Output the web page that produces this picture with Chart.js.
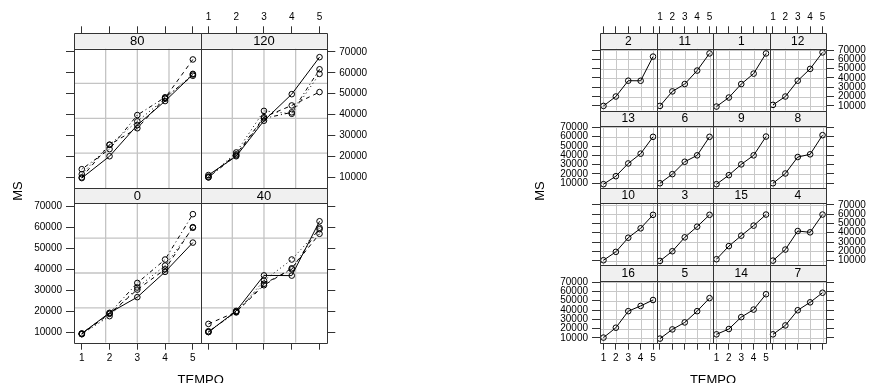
<!DOCTYPE html>
<html>
<head>
<meta charset="utf-8">
<script src="https://cdn.jsdelivr.net/npm/chart.js@4.4.0/dist/chart.umd.min.js"></script>
<style>
  html, body { margin: 0; padding: 0; background: #fff; }
  #wrap { position: relative; width: 869px; height: 383px; }
  canvas { position: absolute; top: 0; }
</style>
</head>
<body>
<div id="wrap">
  <canvas id="byDose" width="430" height="383" style="left:0"></canvas>
  <canvas id="byPlot" width="439" height="383" style="left:430px"></canvas>
</div>
<script>
// dry matter (MS) per plot, read at TEMPO 1..5
const TEMPO = [1, 2, 3, 4, 5]
const plot1 = [9300, 19000, 33500, 44700, 66400]
const plot2 = [10000, 20100, 37100, 37000, 63000]
const plot3 = [9650, 20100, 35000, 46500, 59200]
const plot4 = [10000, 21900, 41800, 40400, 59500]
const plot5 = [9300, 19200, 26700, 38800, 52800]
const plot6 = [10000, 19800, 33100, 40000, 59900]
const plot7 = [13900, 23500, 39800, 48300, 58600]
const plot8 = [10000, 20500, 38200, 41100, 61700]
const plot9 = [9000, 18700, 30300, 40000, 60200]
const plot10 = [10400, 19400, 34600, 44700, 59200]
const plot11 = [10000, 25600, 33500, 48000, 66400]
const plot12 = [11100, 20100, 37100, 49800, 67500]
const plot13 = [9000, 17600, 31300, 41800, 59900]
const plot14 = [13900, 19600, 32400, 40500, 57000]
const plot15 = [11500, 25600, 36800, 47600, 59500]
const plot16 = [10400, 21000, 38800, 44400, 50800]

const X_TICKS = [1, 2, 3, 4, 5]
const Y_TICKS = [10000, 20000, 30000, 40000, 50000, 60000, 70000]

const DOSES = ['0', '40', '80', '120']
const DOSE_PLOTS = [[5, 9, 13, 1], [2, 14, 10, 6], [3, 11, 15, 7], [12, 16, 4, 8]]
const DOSE_LAYOUT = [['80', '120'], ['0', '40']]
const PLOT_LAYOUT = [[2, 11, 1, 12], [13, 6, 9, 8], [10, 3, 15, 4], [16, 5, 14, 7]]

const PLOTS = [plot1, plot2, plot3, plot4, plot5, plot6, plot7, plot8,
  plot9, plot10, plot11, plot12, plot13, plot14, plot15, plot16]

// line types of the superposed groups: solid, dashed, dotted, dotdash
const LTY = [[], [4, 4], [1, 3], [1, 3, 4, 3]]

const INK = '#000'
const FRAME = '#333'
const STRIP_BG = '#f0f0f0'
const FAMILY = 'Liberation Sans, Arial, Helvetica, sans-serif'

// lattice pads numeric axes by 7% of the data range
const xLo = Math.min(...TEMPO)
const xHi = Math.max(...TEMPO)
const X_MIN = xLo - 0.07 * (xHi - xLo)
const X_MAX = xHi + 0.07 * (xHi - xLo)
const yLo = Math.min(...PLOTS.flat())
const yHi = Math.max(...PLOTS.flat())
const Y_MIN = yLo - 0.07 * (yHi - yLo)
const Y_MAX = yHi + 0.07 * (yHi - yLo)

const TOP_H = 33.3
const BOTTOM_H = 24
const LEFT_W = 44
const RIGHT_W = 40

const makePlugin = (spec) => ({
  id: 'lattice',
  beforeDatasetsDraw (chart) {
    const ctx = chart.ctx
    spec.panels.forEach((row, r) => row.forEach((p, c) => {
      const xs = chart.scales[`x${c}b`]
      const ys = chart.scales[`y${r}l`]
      const L = xs.left, R = xs.right, T = ys.top, B = ys.bottom, S = T + spec.strip
      ctx.save()
      ctx.fillStyle = STRIP_BG
      ctx.fillRect(L, T, R - L, spec.strip)
      ctx.fillStyle = INK
      ctx.font = spec.stripFont
      ctx.textAlign = 'center'
      ctx.textBaseline = 'middle'
      ctx.fillText(p.label, (L + R) / 2, T + spec.strip / 2 + 0.5)

      ctx.beginPath()
      ctx.rect(L, S, R - L, B - S)
      ctx.clip()
      ctx.strokeStyle = spec.gridColor
      ctx.lineWidth = spec.gridWidth
      ctx.beginPath()
      if (spec.grid === 'quarters') {
        for (const f of [0.25, 0.5, 0.75]) {
          const gx = L + f * (R - L)
          const gy = S + f * (B - S)
          ctx.moveTo(gx, S); ctx.lineTo(gx, B)
          ctx.moveTo(L, gy); ctx.lineTo(R, gy)
        }
      } else {
        X_TICKS.forEach(v => {
          const gx = Math.round(xs.getPixelForValue(v)) + 0.5
          ctx.moveTo(gx, S); ctx.lineTo(gx, B)
        })
        Y_TICKS.forEach(v => {
          const gy = Math.round(ys.getPixelForValue(v)) + 0.5
          ctx.moveTo(L, gy); ctx.lineTo(R, gy)
        })
      }
      ctx.stroke()
      ctx.restore()
    }))
  },
  afterDatasetsDraw (chart) {
    const ctx = chart.ctx
    const a = chart.chartArea
    ctx.save()
    ctx.strokeStyle = FRAME
    ctx.lineWidth = 1
    ctx.beginPath()
    spec.panels.forEach((row, r) => row.forEach((p, c) => {
      const xs = chart.scales[`x${c}b`]
      const ys = chart.scales[`y${r}l`]
      const L = Math.round(xs.left) + 0.5
      const R = Math.round(xs.right) + 0.5
      const T = Math.round(ys.top) + 0.5
      const B = Math.round(ys.bottom) + 0.5
      const S = Math.round(ys.top + spec.strip) + 0.5
      ctx.rect(L, T, R - L, B - T)
      ctx.moveTo(L, S); ctx.lineTo(R, S)
    }))
    ctx.stroke()

    ctx.fillStyle = INK
    ctx.font = '13px ' + FAMILY
    ctx.textAlign = 'center'
    ctx.textBaseline = 'middle'
    ctx.fillText('TEMPO', (a.left + a.right) / 2, 380)
    ctx.translate(spec.msX, 191)
    ctx.rotate(-Math.PI / 2)
    ctx.fillText('MS', 0, 0)
    ctx.restore()
  }
})

const lattice = (id, spec) => {
  const canvas = document.getElementById(id)
  const W = canvas.width
  const H = canvas.height
  const rows = spec.panels.length
  const cols = spec.panels[0].length
  const rowH = (spec.area.bottom - spec.area.top) / rows
  const yTop = Y_MAX + (Y_MAX - Y_MIN) * spec.strip / (rowH - spec.strip)
  const tickFont = { family: FAMILY, size: 10 }

  const xAxis = (pos, c, labelled) => ({
    type: 'linear',
    position: pos,
    stack: pos,
    stackWeight: 1,
    weight: pos === 'top' ? -c : c,
    min: X_MIN,
    max: X_MAX,
    bounds: 'data',
    afterBuildTicks: s => { s.ticks = X_TICKS.map(value => ({ value })) },
    afterFit: s => { s.height = pos === 'top' ? TOP_H : BOTTOM_H },
    grid: { drawOnChartArea: false, tickLength: 7, color: FRAME, lineWidth: 1 },
    border: { display: false },
    ticks: { display: labelled, autoSkip: false, maxRotation: 0, padding: 3, color: INK, font: tickFont, callback: v => String(v) }
  })

  const yAxis = (pos, r, labelled) => ({
    type: 'linear',
    position: pos,
    stack: pos,
    stackWeight: 1,
    weight: pos === 'left' ? -r : r,
    min: Y_MIN,
    max: yTop,
    bounds: 'data',
    afterBuildTicks: s => { s.ticks = Y_TICKS.map(value => ({ value })) },
    afterFit: s => { s.width = pos === 'left' ? LEFT_W : RIGHT_W },
    grid: { drawOnChartArea: false, tickLength: 8, color: FRAME, lineWidth: 1 },
    border: { display: false },
    ticks: { display: labelled, autoSkip: false, padding: 4, color: INK, font: tickFont, callback: v => String(v) }
  })

  const scales = {}
  for (let c = 0; c < cols; c++) {
    scales[`x${c}b`] = xAxis('bottom', c, c % 2 === 0)
    scales[`x${c}t`] = xAxis('top', c, c % 2 === 1)
  }
  for (let r = 0; r < rows; r++) {
    const fromBottom = rows - 1 - r
    scales[`y${r}l`] = yAxis('left', r, fromBottom % 2 === 0)
    scales[`y${r}r`] = yAxis('right', r, fromBottom % 2 === 1)
  }

  const datasets = []
  spec.panels.forEach((row, r) => row.forEach((p, c) => {
    p.series.forEach(s => {
      datasets.push({
        data: TEMPO.map((t, i) => ({ x: t, y: s.values[i] })),
        xAxisID: `x${c}b`,
        yAxisID: `y${r}l`,
        borderColor: INK,
        borderWidth: 1,
        borderDash: s.dash,
        pointRadius: 2.8,
        pointBorderWidth: 1,
        pointBorderColor: INK,
        pointBackgroundColor: 'rgba(0,0,0,0)',
        tension: 0,
        fill: false
      })
    })
  }))

  return new Chart(canvas.getContext('2d'), {
    type: 'line',
    data: { datasets },
    plugins: [makePlugin(spec)],
    options: {
      responsive: false,
      animation: false,
      devicePixelRatio: 1,
      layout: {
        padding: {
          left: spec.area.left - LEFT_W,
          right: W - spec.area.right - RIGHT_W,
          top: spec.area.top - TOP_H,
          bottom: H - spec.area.bottom - BOTTOM_H
        }
      },
      scales,
      plugins: { legend: { display: false }, tooltip: { enabled: false } }
    }
  })
}

lattice('byDose', {
  area: { left: 74, right: 327.3, top: 33.3, bottom: 342.7 },
  strip: 15.3,
  stripFont: '13px ' + FAMILY,
  grid: 'quarters',
  gridColor: '#c4c4c4',
  gridWidth: 1.3,
  msX: 18,
  panels: DOSE_LAYOUT.map(row => row.map(dose => ({
    label: dose,
    series: DOSE_PLOTS[DOSES.indexOf(dose)].map((n, k) => ({ values: PLOTS[n - 1], dash: LTY[k] }))
  })))
})

lattice('byPlot', {
  area: { left: 170, right: 396, top: 33.3, bottom: 342.7 },
  strip: 15.3,
  stripFont: '12px ' + FAMILY,
  grid: 'ticks',
  gridColor: '#c8c8c8',
  gridWidth: 1,
  msX: 110.7,
  panels: PLOT_LAYOUT.map(row => row.map(n => ({
    label: String(n),
    series: [{ values: PLOTS[n - 1], dash: LTY[0] }]
  })))
})
</script>
</body>
</html>
